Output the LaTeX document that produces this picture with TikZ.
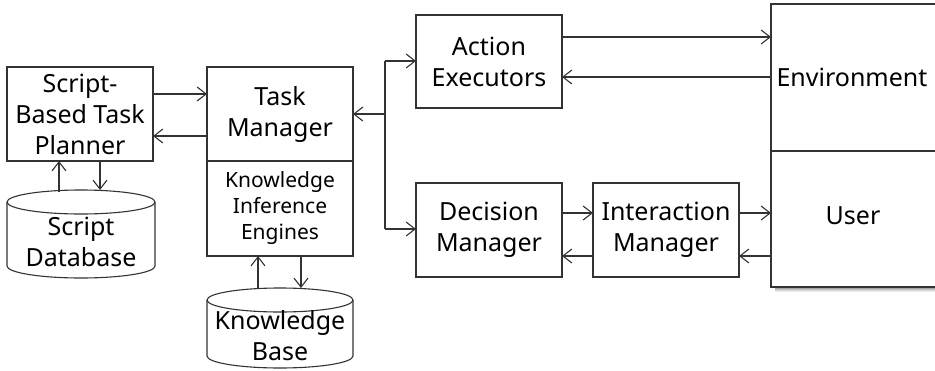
\documentclass[tikz,border=0pt]{standalone}
\usepackage{fontspec}
\setmainfont{Noto Sans}
\usetikzlibrary{arrows.meta}
\begin{document}
\begin{tikzpicture}[x=1pt,y=-1pt,
  line width=1.1pt, color=black!80, text=black,
  box/.style={draw, line width=1.1pt, minimum width=146pt, align=center,
    inner sep=0pt, outer sep=0pt, font=\fontsize{25}{31}\selectfont},
  kie/.style={box, font=\fontsize{21}{26}\selectfont},
  label/.style={align=center, inner sep=0pt, font=\fontsize{25}{31}\selectfont},
  arr/.style={-{Straight Barb[length=9pt,width=14pt]}},
]
\useasboundingbox (0,0) rectangle (935,370);

% planner and its script store
\node[box, minimum height=94pt] (planner) at (80,114) {Script-\\Based Task\\Planner};
\draw[fill=white] (7,202) -- (7,266) arc[start angle=180,end angle=0,x radius=74,y radius=12]
  -- (155,202);
\draw (81,202) ellipse[x radius=74,y radius=12];
\node[label] (sdb) at (81,242) {Script\\Database};
\coordinate (sdbtop) at (81,190);

% task manager with its inference engines
\node[box, minimum height=94pt] (tm) at (280,114) {Task\\Manager};
\node[kie, minimum height=95pt, anchor=north] (kie) at (tm.south) {Knowledge\\Inference\\Engines};
\draw (207,300) -- (207,356) arc[start angle=180,end angle=0,x radius=73,y radius=12]
  -- (353,300);
\draw (280,300) ellipse[x radius=73,y radius=12];
\node[label] (kb) at (280,336) {Knowledge\\Base};
\coordinate (kbtop) at (280,288);

% executors and dialogue managers
\node[box, minimum height=93pt] (act) at (489,61.5) {Action\\Executors};
\node[box, minimum height=94pt] (dm) at (489,230) {Decision\\Manager};
\node[box, minimum height=94pt] (im) at (666,230) {Interaction\\Manager};

% environment / user block with soft shadow
\foreach \d/\o in {1/0.45,2/0.35,3/0.25,4/0.15,5/0.08}
  \fill[black, opacity=\o] (775,287+\d-1) rectangle (935,287+\d);
\node[draw, line width=1.1pt, fill=white, anchor=north west, outer sep=0pt,
  minimum width=190pt, minimum height=147pt] (env) at (771,4) {};
\node[draw, line width=1.1pt, fill=white, anchor=north west, outer sep=0pt,
  minimum width=190pt, minimum height=136pt] (user) at (env.south west) {};
\node[label, anchor=west] (envt) at (776,77) {Environment};
\node[label] (usert) at (853,216) {User};

% planner <-> task manager
\draw[arr] (planner.east |- 0,94) -- (tm.west |- 0,94);
\draw[arr] (tm.west |- 0,136) -- (planner.east |- 0,136);
% planner <-> script database
\draw[arr] (planner.south -| 59,0) ++(0,31) -- (planner.south -| 59,0);
\draw[arr] (planner.south -| 100,0) -- (sdbtop -| 100,0);
% inference engines <-> knowledge base
\draw[arr] (kie.south -| 258,0) ++(0,32) -- (kie.south -| 258,0);
\draw[arr] (kie.south -| 301,0) -- (kbtop -| 301,0);

% distribution bus from task manager
\coordinate (jt) at (385,61);
\coordinate (jm) at (385,114);
\coordinate (jb) at (385,229);
\draw (jt) -- (jb);
\draw[arr] (jm) -- (tm.east |- jm);
\draw[arr] (jt) -- (act.west |- jt);
\draw[arr] (jb) -- (dm.west |- jb);

% executors <-> environment
\draw[arr] (act.east |- 0,37) -- (env.west |- 0,37);
\draw[arr] (env.west |- 0,77) -- (act.east |- 0,77);
% decision <-> interaction <-> user
\draw[arr] (dm.east |- 0,213) -- (im.west |- 0,213);
\draw[arr] (im.west |- 0,256) -- (dm.east |- 0,256);
\draw[arr] (im.east |- 0,213) -- (user.west |- 0,213);
\draw[arr] (user.west |- 0,256) -- (im.east |- 0,256);
\end{tikzpicture}
\end{document}
